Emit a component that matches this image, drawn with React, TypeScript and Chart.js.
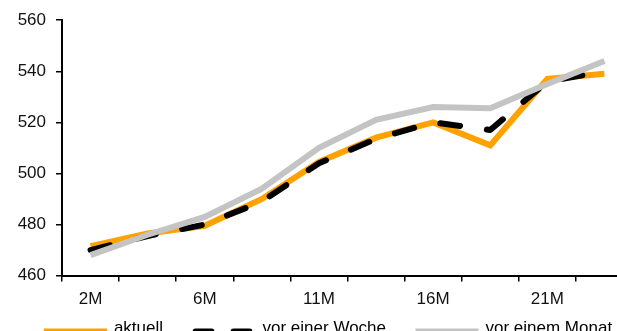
import React, { useEffect, useRef } from "react";
import { Chart, registerables } from "chart.js";

Chart.register(...registerables);

const categories = ["2M", "4M", "6M", "8M", "11M", "13M", "16M", "18M", "21M", "23M"];
const shownTicks = ["2M", "6M", "11M", "16M", "21M"];
const aktuell = [471.5, 476.5, 479.5, 490, 504.5, 514, 520, 511, 537, 539];
const vorEinerWoche = [470, 475.5, 480, 489, 504, 513.5, 520, 517, 536, 540];
const vorEinemMonat = [468, 476, 483, 494, 510, 521, 526, 525.5, 535, 544];
const yMin = 460;
const yMax = 560;
const yStep = 20;

const FAMILY = 'Arial, "Liberation Sans", sans-serif';
const FONT = { family: FAMILY, size: 17 };

const bottomLegend = {
  id: "bottomLegend",
  afterDraw(chart: any, _args: any, opts: any) {
    const { ctx, chartArea } = chart;
    ctx.save();
    ctx.font = `${opts.size}px ${opts.family}`;
    const items = chart.data.datasets.map((ds: any) => ({
      ds,
      w: ctx.measureText(ds.label).width,
    }));
    const total =
      items.reduce((s: number, it: any) => s + opts.swatch + opts.gap + it.w, 0) +
      opts.spacing * (items.length - 1);
    let x = chart.width / 2 - total / 2;
    const yLine = chartArea.bottom + opts.lineOffset;
    const yText = chartArea.bottom + opts.textOffset;
    items.forEach(({ ds, w }: any) => {
      ctx.beginPath();
      ctx.setLineDash(ds.legendDash || ds.borderDash || []);
      const cap = ds.borderCapStyle || "butt";
      ctx.lineCap = cap;
      ctx.lineWidth = ds.borderWidth;
      ctx.strokeStyle = ds.borderColor;
      const inset = cap === "round" ? ds.borderWidth / 2 : 0;
      ctx.moveTo(x + inset, yLine);
      ctx.lineTo(x + opts.swatch - inset, yLine);
      ctx.stroke();
      ctx.setLineDash([]);
      ctx.fillStyle = opts.color;
      ctx.textBaseline = "alphabetic";
      ctx.textAlign = "left";
      ctx.fillText(ds.label, x + opts.swatch + opts.gap, yText);
      x += opts.swatch + opts.gap + w + opts.spacing;
    });
    ctx.restore();
  },
};

export default function App() {
  const ref = useRef<HTMLCanvasElement>(null);

  useEffect(() => {
    if (!ref.current) return;
    const chart = new Chart(ref.current, {
      type: "line",
      data: {
        labels: categories,
        datasets: [
          {
            label: "aktuell",
            data: aktuell,
            borderColor: "#FFA200",
            backgroundColor: "#FFA200",
            borderWidth: 6,
            pointRadius: 0,
            tension: 0,
            order: 3,
          },
          {
            label: "vor einer Woche",
            data: vorEinerWoche,
            borderColor: "#000000",
            backgroundColor: "#000000",
            borderWidth: 6,
            borderDash: [20, 27],
            legendDash: [16, 22],
            borderCapStyle: "round",
            borderJoinStyle: "round",
            pointRadius: 0,
            tension: 0,
            order: 2,
          } as any,
          {
            label: "vor einem Monat",
            data: vorEinemMonat,
            borderColor: "#C4C4C4",
            backgroundColor: "#C4C4C4",
            borderWidth: 6,
            pointRadius: 0,
            tension: 0,
            order: 1,
          },
        ],
      },
      options: {
        responsive: false,
        animation: false,
        layout: { padding: { left: 0, right: 23, top: 19, bottom: 13 } },
        plugins: {
          tooltip: { enabled: false },
          legend: { display: false },
          bottomLegend: {
            family: FAMILY,
            size: 17,
            color: "#000",
            swatch: 63,
            gap: 7,
            spacing: 29.5,
            lineOffset: 56,
            textOffset: 57,
          },
        } as any,
        scales: {
          x: {
            type: "category",
            offset: true,
            grid: {
              offset: true,
              drawOnChartArea: false,
              drawTicks: true,
              tickLength: 6,
              color: "#000",
              lineWidth: 1.5,
            },
            border: { color: "#000", width: 2 },
            ticks: {
              autoSkip: false,
              maxRotation: 0,
              padding: 8,
              color: "#111",
              font: FONT,
              callback: function (this: any, value: any) {
                const lbl = this.getLabelForValue(value);
                return shownTicks.includes(lbl) ? lbl : "";
              },
            },
          },
          y: {
            min: yMin,
            max: yMax,
            grid: {
              drawOnChartArea: false,
              drawTicks: true,
              tickLength: 6,
              color: "#000",
              lineWidth: 1.5,
            },
            border: { color: "#000", width: 2 },
            ticks: {
              stepSize: yStep,
              padding: 10,
              color: "#111",
              font: FONT,
            },
            afterFit: (scale: any) => {
              scale.width = 62;
            },
          },
        },
      },
      plugins: [bottomLegend],
    });
    return () => chart.destroy();
  }, []);

  return (
    <div
      style={{
        position: "absolute",
        left: 0,
        top: 0,
        width: 617,
        height: 331,
        overflow: "hidden",
        background: "#fff",
      }}
    >
      <canvas ref={ref} width={656} height={331} style={{ display: "block" }} />
    </div>
  );
}
